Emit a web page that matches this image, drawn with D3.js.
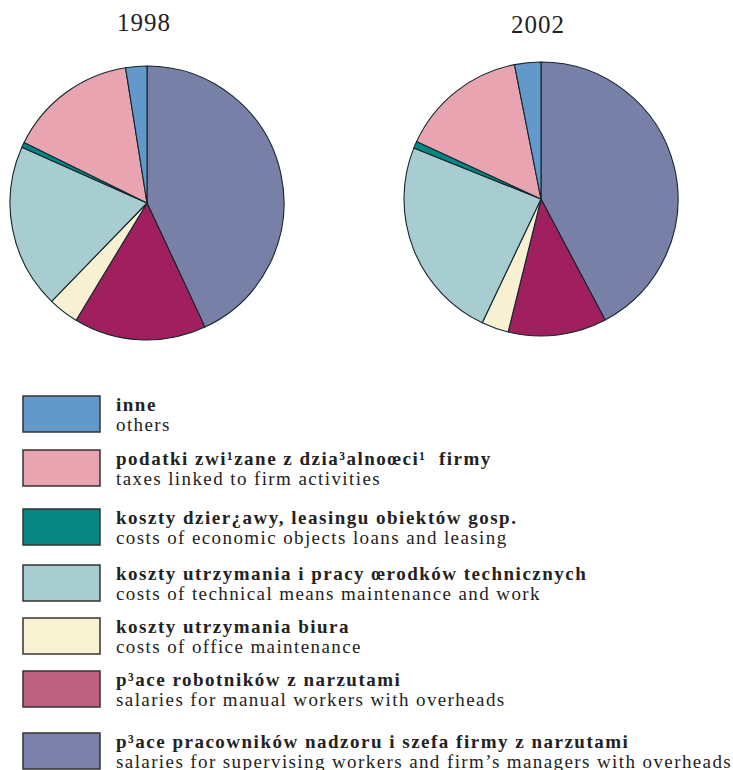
<!DOCTYPE html>
<html>
<head>
<meta charset="utf-8">
<script src="https://cdn.jsdelivr.net/npm/d3@7"></script>
<style>
  body { margin: 0; background: #fff; }
  text { font-family: "Liberation Serif", "Times New Roman", serif; fill: #222; }
</style>
</head>
<body>
<svg id="canvas" width="733" height="770"></svg>
<script>
// categories, in legend order (top to bottom)
let namesPl = [
  'inne',
  'podatki zwi¹zane z dzia³alnoœci¹  firmy',
  'koszty dzier¿awy, leasingu obiektów gosp.',
  'koszty utrzymania i pracy œrodków technicznych',
  'koszty utrzymania biura',
  'p³ace robotników z narzutami',
  'p³ace pracowników nadzoru i szefa firmy z narzutami'
]
let namesEn = [
  'others',
  'taxes linked to firm activities',
  'costs of economic objects loans and leasing',
  'costs of technical means maintenance and work',
  'costs of office maintenance',
  'salaries for manual workers with overheads',
  'salaries for supervising workers and firm\u2019s managers with overheads'
]
let years = ['1998', '2002']
// shares in %, same order as the legend
let values1998 = [2.5, 15.2, 0.6, 19.4, 3.6, 15.6, 43.0]
let values2002 = [3.1, 15.0, 0.8, 24.0, 3.2, 11.6, 42.2]

let pieColors = ['#6398cb', '#e8a5b1', '#068784', '#a8cdd1', '#f7f0d2', '#a01f5e', '#7880a8']
let legendColors = ['#6398cb', '#e8a5b1', '#068784', '#a8cdd1', '#faf3d3', '#be6181', '#7a80aa']

let canvas = d3.select('#canvas')

// pies run clockwise from 12 o'clock starting with the last legend entry
let pie = d3.pie().sort(null).value(d => d.v)
let arc = d3.arc().innerRadius(0).outerRadius(137)

let pies = [
  {year: years[0], values: values1998, cx: 147, cy: 203, ty: 31},
  {year: years[1], values: values2002, cx: 541, cy: 199, ty: 33}
]

pies.forEach(p => {
  let items = p.values.map((v, i) => ({v: v, i: i})).reverse()
  let g = canvas.append('g').attr('transform', 'translate(' + p.cx + ',' + p.cy + ')')
  g.selectAll('path')
    .data(pie(items))
    .enter()
    .append('path')
    .attr('d', arc)
    .attr('fill', d => pieColors[d.data.i])
    .attr('stroke', '#15262b')
    .attr('stroke-width', 1.1)
    .attr('stroke-linejoin', 'round')
  canvas.append('text')
    .attr('x', p.cx - 3)
    .attr('y', p.ty)
    .attr('text-anchor', 'middle')
    .attr('font-size', 25)
    .attr('letter-spacing', 1)
    .text(p.year)
})

// legend
let legendTop = [396, 450, 509, 565, 618, 671, 733]
let legend = canvas.selectAll('.legend')
  .data(namesPl)
  .enter()
  .append('g')
  .attr('class', 'legend')
  .attr('transform', (d, i) => 'translate(23,' + legendTop[i] + ')')

legend.append('rect')
  .attr('width', 77)
  .attr('height', 36)
  .attr('fill', (d, i) => legendColors[i])
  .attr('stroke', '#333')
  .attr('stroke-width', 1.5)

legend.append('text')
  .attr('x', 93)
  .attr('y', 15)
  .attr('font-size', 19)
  .attr('font-weight', 'bold')
  .attr('letter-spacing', 1.5)
  .attr('xml:space', 'preserve')
  .text(d => d)

legend.append('text')
  .attr('x', 93)
  .attr('y', 35)
  .attr('font-size', 19)
  .attr('letter-spacing', 1.4)
  .text((d, i) => namesEn[i])
</script>
</body>
</html>
